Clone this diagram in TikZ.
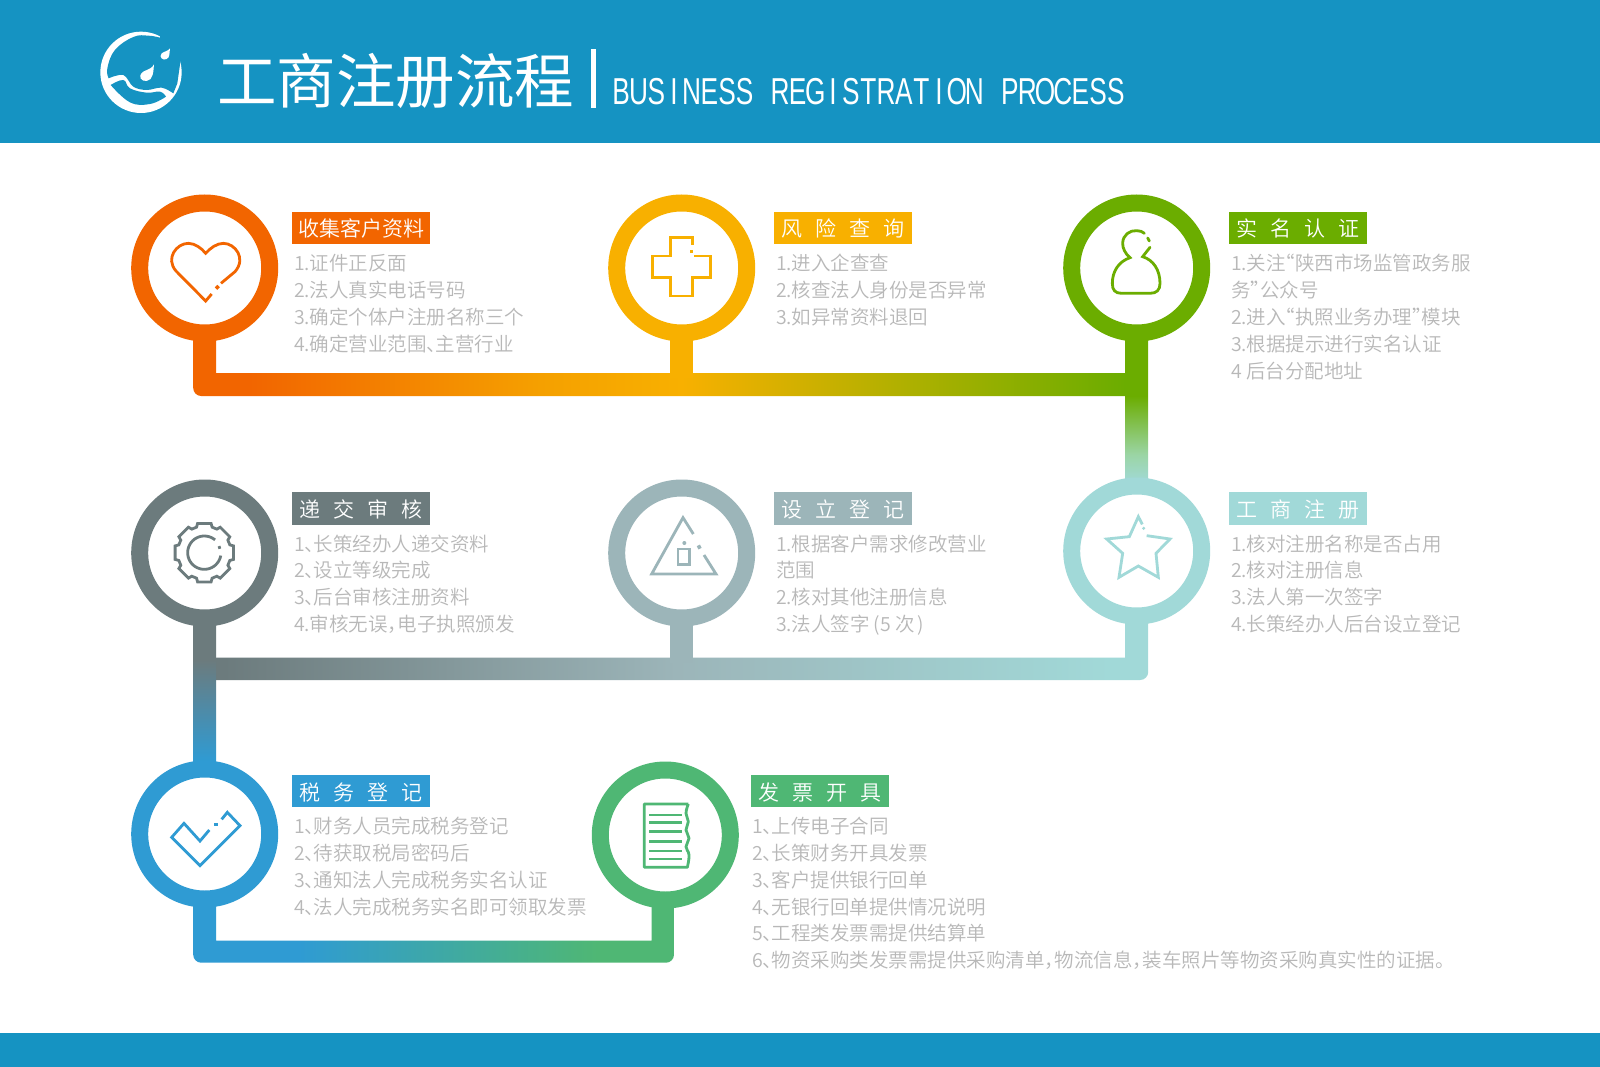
\documentclass[tikz,border=0pt]{standalone}
\usepackage{fontspec}
\usetikzlibrary{calc}
\setmainfont{Noto Sans CJK SC DemiLight}
\newfontfamily\titlef{Noto Sans CJK SC}
\newfontfamily\latinf{Liberation Sans}
\definecolor{hdr}{HTML}{1593C2}
\definecolor{corange}{HTML}{F26500}
\definecolor{cyellow}{HTML}{F8B000}
\definecolor{cgreen}{HTML}{6BAD00}
\definecolor{cgrey}{HTML}{6C7B7D}
\definecolor{cslate}{HTML}{9CB5B9}
\definecolor{cteal}{HTML}{A1D9D8}
\definecolor{cblue}{HTML}{2F9BD3}
\definecolor{cmint}{HTML}{4FB774}
\definecolor{txt}{HTML}{B8B8B8}
\definecolor{midA}{HTML}{F5A000}
\definecolor{midB}{HTML}{B0B000}
\definecolor{midC}{HTML}{9BD5A5}
\pgfdeclarehorizontalshading{barone}{100bp}{color(0bp)=(corange); color(28bp)=(corange); color(43.6bp)=(midA); color(51.2bp)=(cyellow); color(63bp)=(midB); color(75bp)=(cgreen); color(100bp)=(cgreen)}
\pgfdeclarehorizontalshading{bartwo}{100bp}{color(0bp)=(cgrey); color(26bp)=(cgrey); color(50bp)=(cslate); color(73bp)=(cteal); color(100bp)=(cteal)}
\pgfdeclarehorizontalshading{barthree}{100bp}{color(0bp)=(cblue); color(36bp)=(cblue); color(67bp)=(cmint); color(100bp)=(cmint)}
\pgfdeclareverticalshading{riserone}{100bp}{color(0bp)=(cteal); color(37bp)=(cteal); color(42bp)=(midC); color(52.4bp)=(cgreen); color(100bp)=(cgreen)}
\pgfdeclareverticalshading{risertwo}{100bp}{color(0bp)=(cblue); color(38bp)=(cblue); color(56bp)=(cgrey); color(100bp)=(cgrey)}
\tikzset{
  ring/.style={circle,draw=#1,line width=17pt,fill=white,minimum size=130pt,inner sep=0pt,outer sep=0pt},
  tag/.style={fill=#1,text=white,minimum width=138pt,minimum height=32.5pt,inner sep=0pt,outer sep=0pt,
     text height=21pt,text depth=3pt,font=\fontsize{21}{21}\selectfont},
  item/.style={anchor=base west,inner sep=0pt,outer sep=0pt,text=txt,font=\fontsize{19.5}{19.5}\selectfont},
  ico/.style={draw=#1,line width=2.8pt,line cap=butt,line join=miter,fill=none},
  icoscope/.style={x=.33333pt,y=-.33333pt}
}
\newcommand\li[4]{\node[item] (#1) at (#2,#3) {#4};}
\newcommand\sx{\hspace{13pt}}
\newcommand\dn{、\kern-10.5pt }
\newcommand\cm{，\kern-9.5pt }
\newcommand\lqm{\kern-10pt “}
\newcommand\rqm{”\kern-10pt }
\newcommand\mc[1]{\makebox[17.67pt][c]{\scalebox{.7}[1]{#1}}}
\begin{document}
\begin{tikzpicture}[x=1pt,y=-1pt]
\useasboundingbox (0,0) rectangle (1600,1067);
\fill[white] (0,0) rectangle (1600,1067);
\fill[hdr] (0,0) rectangle (1600,143);
\fill[hdr] (0,1032.5) rectangle (1600,1067);
% logo
\begin{scope}[shift={(90,25)},icoscope]
\fill[white] (153,142) circle[radius=122*.33333pt];
\fill[hdr] (56,160) plot[smooth,tension=.6] coordinates {(56,160) (100,150) (130,185) (170,195) (215,188) (250,205)}
   -- (262,175) -- plot[smooth,tension=.7] coordinates {(262,175) (272,105)}
   -- (300,95) -- (290,30) -- (212,20) -- plot[smooth,tension=.7] coordinates {(210,38) (175,32) (130,36) (75,75) (52,130) (56,160)} -- cycle;
\fill[hdr] plot[smooth,tension=.7] coordinates {(62,180) (100,165) (120,190) (170,203) (210,200) (228,215)}
   -- plot[smooth,tension=.7] coordinates {(228,215) (180,237) (120,232) (62,180)} -- cycle;
\fill[white] (192,118) .. controls (186,130) and (180,130) .. (160,140) .. controls (140,155) and (155,170) .. (170,168) .. controls (190,165) and (190,140) .. (192,118) -- cycle;
\fill[white] (240,70) .. controls (232,80) and (225,78) .. (215,85) .. controls (205,97) and (220,108) .. (230,102) .. controls (240,97) and (238,85) .. (240,70) -- cycle;
\end{scope}
% header text
\node[anchor=base west,inner sep=0pt,text=white,font=\titlef\fontsize{59.5}{59.5}\selectfont] (title) at (217,103.5) {工商注册流程};
\fill[white] (590.5,49) rectangle (595.5,108);
\node[anchor=base west,inner sep=0pt,text=white,font=\latinf\fontsize{37.5}{37.5}\selectfont] (subtitle) at (612,105)
 {\mc{B}\mc{U}\mc{S}\mc{I}\mc{N}\mc{E}\mc{S}\mc{S}\mc{~}\mc{R}\mc{E}\mc{G}\mc{I}\mc{S}\mc{T}\mc{R}\mc{A}\mc{T}\mc{I}\mc{O}\mc{N}\mc{~}\mc{P}\mc{R}\mc{O}\mc{C}\mc{E}\mc{S}\mc{S}};
% anchors for circles
\coordinate (p1) at (204.7,268);
\coordinate (p2) at (681.7,268);
\coordinate (p3) at (1136.7,268);
\coordinate (p4) at (204.7,553);
\coordinate (p5) at (681.7,553);
\coordinate (p6) at (1136.7,551);
\coordinate (p7) at (204.7,834);
\coordinate (p8) at (665.3,835);
% connectors
\shade[shading=barone] ($(p1)+(-11.5,0)$) -- ($(p1)+(-11.5,120)$) .. controls ($(p1)+(-11.5,124.4)$) and ($(p1)+(-7.9,128)$) .. ($(p1)+(-3.5,128)$) -- ($(p3)+(-11.5,128)$) -- ($(p3)+(-11.5,105)$) -- ($(p1)+(11.5,105)$) -- ($(p1)+(11.5,0)$) -- cycle;
\fill[cyellow] ($(p2)+(-11.5,0)$) rectangle ($(p2)+(11.5,110)$);
\shade[shading=riserone] ($(p3)+(-11.5,0)$) rectangle ($(p6)+(11.5,0)$);
\shade[shading=bartwo] ($(p6)+(11.5,0)$) -- ($(p6)+(11.5,121)$) .. controls ($(p6)+(11.5,125.4)$) and ($(p6)+(7.9,129)$) .. ($(p6)+(3.5,129)$) -- ($(p4)+(0,127)$) -- ($(p4)+(0,104.7)$) -- ($(p6)+(-11.5,106.7)$) -- ($(p6)+(-11.5,0)$) -- cycle;
\fill[cslate] ($(p5)+(-11.5,0)$) rectangle ($(p5)+(11.5,110)$);
\shade[shading=risertwo] ($(p4)+(-11.5,0)$) rectangle ($(p7)+(11.5,0)$);
\shade[shading=barthree] ($(p7)+(-11.5,0)$) -- ($(p7)+(-11.5,120.7)$) .. controls ($(p7)+(-11.5,125.1)$) and ($(p7)+(-7.9,128.7)$) .. ($(p7)+(-3.5,128.7)$) -- ($(p8)+(0.7,127.7)$) .. controls ($(p8)+(5.1,127.7)$) and ($(p8)+(8.7,124.1)$) .. ($(p8)+(8.7,119.7)$) -- ($(p8)+(8.7,0)$) -- ($(p8)+(-13.6,0)$) -- ($(p8)+(-13.6,105.7)$) -- ($(p7)+(11.5,106.7)$) -- ($(p7)+(11.5,0)$) -- cycle;
% circles
\node[ring=corange] (c1) at (p1) {};
\node[ring=cyellow] (c2) at (p2) {};
\node[ring=cgreen] (c3) at (p3) {};
\node[ring=cgrey] (c4) at (p4) {};
\node[ring=cslate] (c5) at (p5) {};
\node[ring=cteal] (c6) at (p6) {};
\node[ring=cblue] (c7) at (p7) {};
\node[ring=cmint] (c8) at (p8) {};
% heart
\begin{scope}[shift={(120,190)},icoscope]
\draw[ico=corange] (275,312) -- (257,333) -- (168,243) .. controls (135,205) and (170,160) .. (205,160) .. controls (225,160) and (245,175) .. (257,190) .. controls (270,175) and (290,160) .. (310,160) .. controls (345,160) and (380,205) .. (345,245) -- (303,280);
\draw[ico=corange,line width=3.5pt] (288,296) -- (296,288);
\end{scope}
% cross
\begin{scope}[shift={(600,190)},icoscope]
\draw[ico=cyellow] (277,165) -- (277,143) -- (212,143) -- (212,198) -- (157,198) -- (157,263) -- (212,263) -- (212,318) -- (277,318) -- (277,263) -- (331,263) -- (331,198) -- (282,198);
\draw[ico=cyellow,line width=3.5pt] (270,185) -- (280,185);
\end{scope}
% person
\begin{scope}[shift={(1050,190)},icoscope]
\draw[ico=cgreen,line cap=round] (300,172) -- (278,200) .. controls (310,210) and (330,240) .. (330,280) .. controls (330,300) and (320,310) .. (300,310) -- (215,310) .. controls (195,310) and (187,300) .. (187,280) .. controls (187,245) and (205,215) .. (240,203) .. controls (225,190) and (218,175) .. (218,160) .. controls (218,135) and (240,120) .. (260,122) .. controls (270,122) and (278,125) .. (283,130);
\draw[ico=cgreen,line cap=round] (293,144) -- (298,153);
\end{scope}
% gear
\begin{scope}[shift={(120,470)},icoscope]
\begin{scope}[shift={(253,248)}]
\draw[ico=cgrey] (77:90) \foreach \a in {90,135,...,405} { -- (\a-13:90) -- (\a+13:90) -- (\a+17:80) -- (\a+28:80) } -- cycle;
\draw[ico=cgrey] plot[smooth,samples=40,domain=50:350,variable=\t] ({50*cos(\t)},{-50*sin(\t)});
\draw[ico=cgrey] plot[smooth,samples=5,domain=14:24,variable=\t] ({48*cos(\t)},{-48*sin(\t)});
\end{scope}
\end{scope}
% triangle
\begin{scope}[shift={(600,470)},icoscope]
\draw[ico=cslate] (280,192) -- (249,143) -- (155,312) -- (348,312) -- (312,255);
\draw[ico=cslate,line width=3.5pt] (295,226) -- (300,236);
\draw[ico=cslate] (234,237) rectangle (268,284);
\fill[cslate] (253,219) circle[radius=2pt];
\end{scope}
% star
\begin{scope}[shift={(1050,470)},icoscope]
\draw[ico=cteal] (290,197) -- (360,207) -- (318,250) -- (325,322) -- (265,288) -- (207,322) -- (218,250) -- (170,207) -- (238,200) -- (265,140) -- (277,163);
\fill[cteal] (281,175) circle[radius=1.7pt];
\end{scope}
% check
\begin{scope}[shift={(120,750)},icoscope]
\draw[ico=cblue] (268,240) -- (240,273) -- (192,220) -- (155,262) -- (240,347) -- (360,227) -- (322,187) -- (305,208);
\draw[ico=cblue,line width=3.5pt] (283,224) -- (293,224);
\end{scope}
% document
\begin{scope}[shift={(580,750)},icoscope]
\draw[ico=cmint,line join=round] (325,162) -- (193,162) -- (193,352) -- (322,352) -- plot[smooth,tension=.8] coordinates {(322,352) (327,315) (318,290) (327,265) (318,240) (325,215) (318,190) (325,162)};
\foreach \yy in {195,218,245,275,303,327} \draw[ico=cmint] (208,\yy) -- (305,\yy);
\end{scope}
% labels
\node[tag=corange] (t1) at (361,228) {收集客户资料};
\node[tag=cyellow] (t2) at (843,228) {风\sx 险\sx 查\sx 询};
\node[tag=cgreen] (t3) at (1297.5,228) {实\sx 名\sx 认\sx 证};
\node[tag=cgrey] (t4) at (361,508.5) {递\sx 交\sx 审\sx 核};
\node[tag=cslate] (t5) at (843,508.5) {设\sx 立\sx 登\sx 记};
\node[tag=cteal] (t6) at (1297.5,508.5) {工\sx 商\sx 注\sx 册};
\node[tag=cblue] (t7) at (361,791) {税\sx 务\sx 登\sx 记};
\node[tag=cmint] (t8) at (819.5,791) {发\sx 票\sx 开\sx 具};
% lists
\li{a1}{294}{270}{1.证件正反面}
\li{a2}{294}{297}{2.法人真实电话号码}
\li{a3}{294}{324}{3.确定个体户注册名称三个}
\li{a4}{294}{351}{4.确定营业范围\dn 主营行业}
\li{b1}{776}{270}{1.进入企查查}
\li{b2}{776}{297}{2.核查法人身份是否异常}
\li{b3}{776}{324}{3.如异常资料退回}
\li{d1}{1231}{270}{1.关注\lqm 陕西市场监管政务服}
\li{d2}{1231}{297}{务\rqm 公众号}
\li{d3}{1231}{324}{2.进入\lqm 执照业务办理\rqm 模块}
\li{d4}{1231}{351}{3.根据提示进行实名认证}
\li{d5}{1231}{378}{4 后台分配地址}
\li{e1}{294}{551}{1\dn 长策经办人递交资料}
\li{e2}{294}{577}{2\dn 设立等级完成}
\li{e3}{294}{604}{3\dn 后台审核注册资料}
\li{e4}{294}{631}{4.审核无误\cm 电子执照颁发}
\li{f1}{776}{551}{1.根据客户需求修改营业}
\li{f2}{776}{577}{范围}
\li{f3}{776}{604}{2.核对其他注册信息}
\li{f4}{776}{631}{3.法人签字\kern4pt(5 次\kern3pt)}
\li{g1}{1231}{551}{1.核对注册名称是否占用}
\li{g2}{1231}{577}{2.核对注册信息}
\li{g3}{1231}{604}{3.法人第一次签字}
\li{g4}{1231}{631}{4.长策经办人后台设立登记}
\li{h1}{294}{833}{1\dn 财务人员完成税务登记}
\li{h2}{294}{860}{2\dn 待获取税局密码后}
\li{h3}{294}{887}{3\dn 通知法人完成税务实名认证}
\li{h4}{294}{914}{4\dn 法人完成税务实名即可领取发票}
\li{k1}{752}{833}{1\dn 上传电子合同}
\li{k2}{752}{860}{2\dn 长策财务开具发票}
\li{k3}{752}{887}{3\dn 客户提供银行回单}
\li{k4}{752}{914}{4\dn 无银行回单提供情况说明}
\li{k5}{752}{940}{5\dn 工程类发票需提供结算单}
\li{k6}{752}{967}{6\dn 物资采购类发票需提供采购清单\cm 物流信息\cm 装车照片等物资采购真实性的证据。}
\end{tikzpicture}
\end{document}
